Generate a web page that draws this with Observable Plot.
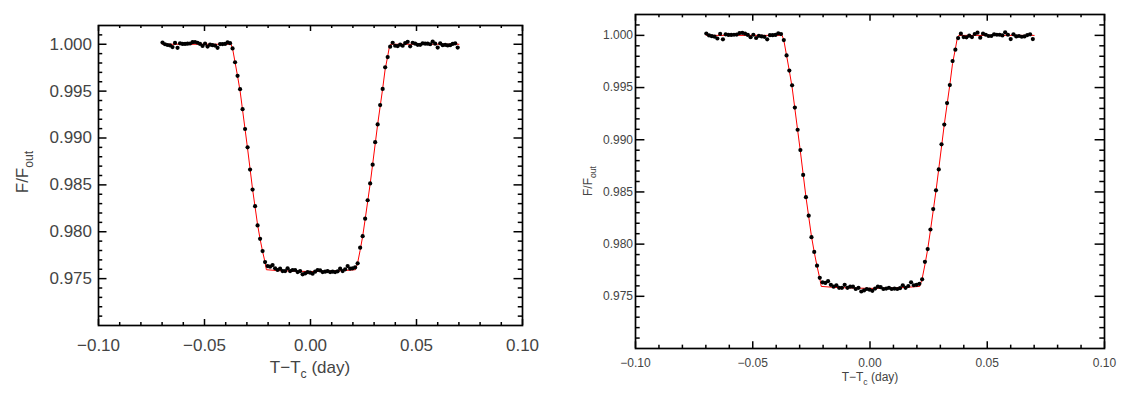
<!DOCTYPE html>
<html><head><meta charset="utf-8">
<script src="https://cdn.jsdelivr.net/npm/d3@7"></script>
<script src="https://cdn.jsdelivr.net/npm/@observablehq/plot@0.6"></script>
<style>
html,body{margin:0;padding:0;background:#fff}
body{width:1129px;height:397px;overflow:hidden;position:relative}
.panel{position:absolute;top:0}
.panel svg{overflow:visible}
</style></head><body>
<div id="left" class="panel" style="left:0px"></div>
<div id="right" class="panel" style="left:560px"></div>
<script>
// observation times (day, relative to mid-transit)
const time = [
-0.06980,-0.06862,-0.06744,-0.06626,-0.06508,-0.06390,-0.06272,-0.06154,-0.06036,-0.05918,
-0.05800,-0.05682,-0.05564,-0.05446,-0.05328,-0.05210,-0.05092,-0.04974,-0.04856,-0.04738,
-0.04620,-0.04502,-0.04384,-0.04266,-0.04148,-0.04030,-0.03912,-0.03794,-0.03676,-0.03558,
-0.03440,-0.03322,-0.03204,-0.03086,-0.02968,-0.02850,-0.02732,-0.02614,-0.02496,-0.02378,
-0.02260,-0.02142,-0.02024,-0.01906,-0.01788,-0.01670,-0.01552,-0.01434,-0.01316,-0.01198,
-0.01080,-0.00962,-0.00844,-0.00726,-0.00608,-0.00490,-0.00372,-0.00254,-0.00136,-0.00018,
 0.00100, 0.00218, 0.00336, 0.00454, 0.00572, 0.00690, 0.00808, 0.00926, 0.01044, 0.01162,
 0.01280, 0.01398, 0.01516, 0.01634, 0.01752, 0.01870, 0.01988, 0.02106, 0.02224, 0.02342,
 0.02460, 0.02578, 0.02696, 0.02814, 0.02932, 0.03050, 0.03168, 0.03286, 0.03404, 0.03522,
 0.03640, 0.03758, 0.03876, 0.03994, 0.04112, 0.04230, 0.04348, 0.04466, 0.04584, 0.04702,
 0.04820, 0.04938, 0.05056, 0.05174, 0.05292, 0.05410, 0.05528, 0.05646, 0.05764, 0.05882,
 0.06000, 0.06118, 0.06236, 0.06354, 0.06472, 0.06590, 0.06708, 0.06826, 0.06944
];
// normalised flux F/F_out
const flux = [
1.00018,1.00000,0.99992,0.99988,0.99970,1.00014,0.99962,1.00010,1.00004,1.00004,
1.00006,1.00008,1.00022,1.00024,1.00016,1.00004,0.99982,1.00006,0.99975,0.99996,
0.99990,0.99986,0.99962,1.00002,1.00002,1.00004,1.00020,1.00012,0.99955,0.99808,
0.99663,0.99521,0.99308,0.99096,0.98901,0.98663,0.98450,0.98273,0.98067,0.97925,
0.97794,0.97677,0.97634,0.97628,0.97645,0.97610,0.97592,0.97606,0.97581,0.97581,
0.97610,0.97581,0.97592,0.97592,0.97570,0.97581,0.97546,0.97556,0.97570,0.97564,
0.97553,0.97574,0.97592,0.97588,0.97570,0.97574,0.97581,0.97570,0.97574,0.97570,
0.97578,0.97606,0.97581,0.97599,0.97634,0.97606,0.97610,0.97620,0.97663,0.97830,
0.97953,0.98140,0.98336,0.98515,0.98716,0.98956,0.99145,0.99351,0.99524,0.99754,
0.99863,0.99974,1.00016,0.99984,0.99981,0.99997,0.99984,1.00013,1.00026,0.99978,
1.00016,1.00006,0.99994,0.99994,1.00010,1.00006,1.00006,1.00000,1.00029,1.00006,
0.99965,1.00010,0.99990,0.99994,0.99987,0.99990,1.00003,1.00010,0.99965
];
// transit model (red curve)
const modelTime = [-0.0698,-0.0375,-0.0368,-0.0356,-0.0344,-0.0332,-0.0297,-0.0273,-0.0250,-0.0238,-0.0226,-0.0214,-0.0208,
  -0.0150,-0.0050,0.0004,0.0060,0.0150,0.0212,0.0222,0.0234,0.0246,0.0258,0.0282,0.0317,0.0340,0.0352,0.0364,0.0372,0.0378,0.0700];
const modelFlux = [1.0000,1.0000,0.99960,0.99810,0.99660,0.99500,0.98890,0.98450,0.98080,0.97925,0.97790,0.97670,0.97595,
  0.97585,0.97578,0.97576,0.97578,0.97585,0.97595,0.97665,0.97800,0.97950,0.98135,0.98520,0.99150,0.99520,0.99730,0.99870,0.99970,1.0000,1.0000];

const xMajor = [-0.10,-0.05,0.00,0.05,0.10];
const xMinor = [-0.09,-0.08,-0.07,-0.06,-0.04,-0.03,-0.02,-0.01,0.01,0.02,0.03,0.04,0.06,0.07,0.08,0.09];
const yMajor = [0.975,0.980,0.985,0.990,0.995,1.000];
const yMinor = [0.971,0.972,0.973,0.974,0.976,0.977,0.978,0.979,0.981,0.982,0.983,0.984,0.986,0.987,0.988,0.989,
  0.991,0.992,0.993,0.994,0.996,0.997,0.998,0.999,1.001];
const xDomain = [-0.10,0.10];
const yDomain = [0.970,1.002];
const xTitle = ["T\u2212T","c"," (day)"];
const yTitle = ["F/F","out"];

const points = time.map((t,i)=>({t, f: flux[i]}));
const model = modelTime.map((t,i)=>({t, f: modelFlux[i]}));

function makePanel(c) {
  const fx = d3.format(".2f"), fy = d3.format(".3f");
  const tw = 1.5;
  // data units per pixel, used to give the inward ticks a fixed pixel length
  const ky = (yDomain[1] - yDomain[0]) / (c.height - c.mt - c.mb);
  const kx = (xDomain[1] - xDomain[0]) / (c.width - c.ml - c.mr);
  const marks = [
    Plot.line(model, {x:"t", y:"f", stroke:"#ff0000", strokeWidth:1}),
    Plot.dot(points, {x:"t", y:"f", r:c.r, fill:"black", stroke:"none"})
  ];
  for (const [vals, len] of [[xMajor, c.xMaj], [xMinor, c.xMaj/2]]) {
    marks.push(Plot.ruleX(vals, {x:d=>d, y1:yDomain[0], y2:yDomain[0] + len*ky, stroke:"black", strokeWidth:tw}));
    marks.push(Plot.ruleX(vals, {x:d=>d, y1:yDomain[1], y2:yDomain[1] - len*ky, stroke:"black", strokeWidth:tw}));
  }
  for (const [vals, len] of [[yMajor, c.yMaj], [yMinor, c.yMaj/2]]) {
    marks.push(Plot.ruleY(vals, {y:d=>d, x1:xDomain[0], x2:xDomain[0] + len*kx, stroke:"black", strokeWidth:tw}));
    marks.push(Plot.ruleY(vals, {y:d=>d, x1:xDomain[1], x2:xDomain[1] - len*kx, stroke:"black", strokeWidth:tw}));
  }
  marks.push(Plot.frame({stroke:"black", strokeWidth:1.7}));
  marks.push(Plot.axisX(xMajor, {anchor:"bottom", tickSize:0, tickPadding:c.xPad, tickFormat:fx, label:null, fontSize:c.font, fill:"#444"}));
  marks.push(Plot.axisY(yMajor, {anchor:"left", tickSize:0, tickPadding:c.yPad, tickFormat:fy, label:null, fontSize:c.font, fill:"#444"}));
  const svg = Plot.plot({
    width:c.width, height:c.height,
    marginLeft:c.ml, marginRight:c.mr, marginTop:c.mt, marginBottom:c.mb,
    x:{domain:xDomain}, y:{domain:yDomain},
    style:{fontFamily:"'Liberation Sans', Arial, sans-serif", background:"white", color:"#444"},
    marks
  });
  const s = d3.select(svg);
  const xl = s.append("text")
    .attr("x", c.xtX).attr("y", c.xtY)
    .attr("text-anchor","middle").attr("font-size", c.font).attr("fill","#444")
    .attr("font-family","'Liberation Sans', Arial, sans-serif");
  xl.append("tspan").text(xTitle[0]);
  xl.append("tspan").attr("dy", c.font*0.3).attr("font-size", c.font*0.72).text(xTitle[1]);
  xl.append("tspan").attr("dy", -c.font*0.3).text(xTitle[2]);
  const yl = s.append("text")
    .attr("transform", `translate(${c.ytX},${c.ytY}) rotate(-90)`)
    .attr("text-anchor","middle").attr("font-size", c.font).attr("fill","#444")
    .attr("font-family","'Liberation Sans', Arial, sans-serif");
  yl.append("tspan").text(yTitle[0]);
  yl.append("tspan").attr("dy", c.font*0.3).attr("font-size", c.font*0.72).text(yTitle[1]);
  return svg;
}

document.getElementById("left").append(makePanel({
  width:560, height:397, ml:98, mr:38, mt:25, mb:72,
  r:2.1, xMaj:6, yMaj:8.5, font:17, xPad:13, yPad:6.5,
  xtX:310, xtY:373, ytX:28, ytY:172
}));
document.getElementById("right").append(makePanel({
  width:569, height:397, ml:75, mr:25, mt:14, mb:49,
  r:2.1, xMaj:6.7, yMaj:9.4, font:12, xPad:10, yPad:2.5,
  xtX:310, xtY:381, ytX:32, ytY:181
}));
</script>
</body></html>
